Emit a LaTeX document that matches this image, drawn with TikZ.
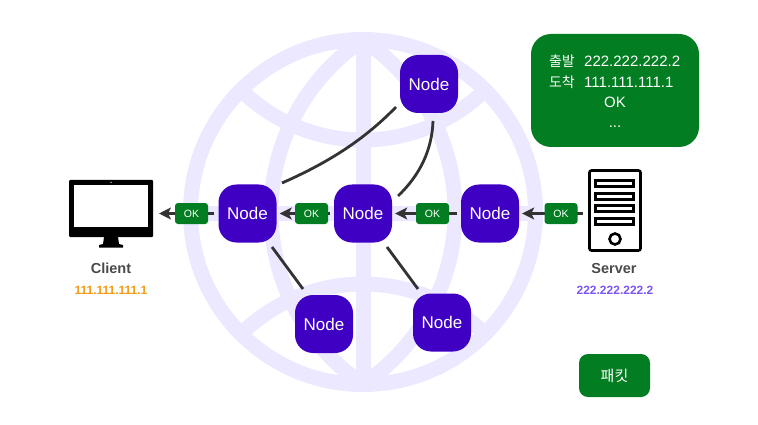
\documentclass[tikz,border=0pt]{standalone}
\usepackage{fontspec}
\setmainfont{Liberation Sans}
\newfontfamily\krfont{Noto Sans CJK KR}
\usetikzlibrary{arrows.meta}
\definecolor{globe}{HTML}{ECE8FF}
\definecolor{nodeblue}{HTML}{3F00C4}
\definecolor{pgreen}{HTML}{027D21}
\definecolor{linegray}{HTML}{333333}
\definecolor{labelgray}{HTML}{4A4A4A}
\definecolor{ipor}{HTML}{F59A12}
\definecolor{ippur}{HTML}{7B55F5}
\tikzset{
 globeline/.style={draw=globe,line width=15pt},
 netnode/.style={fill=nodeblue,rounded corners=18pt,minimum width=58pt,minimum height=58pt,text=white,font=\fontsize{17}{17}\selectfont,inner sep=0pt},
 okbox/.style={fill=pgreen,rounded corners=3pt,minimum width=33pt,minimum height=21pt,text=white,font=\fontsize{10.5}{10.5}\selectfont,inner sep=0pt},
 flow/.style={draw=linegray,line width=3pt,shorten <=4pt,shorten >=3pt,-{Stealth[length=12pt,width=12pt,inset=3pt]}},
 link/.style={draw=linegray,line width=2.8pt},
 caplabel/.style={text=labelgray,font=\bfseries\fontsize{14.5}{14.5}\selectfont,inner sep=0pt},
 ipa/.style={text=ipor,font=\bfseries\fontsize{12}{12}\selectfont,inner sep=0pt},
 ipb/.style={text=ippur,font=\bfseries\fontsize{12}{12}\selectfont,inner sep=0pt},
 pkt/.style={text=white,font=\fontsize{15}{15}\selectfont,inner sep=0pt},
 icon/.style={draw=black,line width=2.6pt},
}
\begin{document}
\begin{tikzpicture}[x=1pt,y=-1pt]
\useasboundingbox (0,0) rectangle (758,425);
% globe
\draw[globeline] (363,212) circle[radius=172.5];
\draw[globeline,smooth] plot[domain=-56.3:56.3,samples=40] ({478-207*cos(\x)},{212+207*sin(\x)});
\draw[globeline,smooth] plot[domain=-56.3:56.3,samples=40] ({248+207*cos(\x)},{212+207*sin(\x)});
\draw[globeline] (363,40) -- (363,384);
\draw[globeline] (190,213) -- (536,213);
\draw[globeline,smooth] plot[domain=-44:44,samples=40] ({363+174*sin(\x)},{-34+174*cos(\x)});
\draw[globeline,smooth] plot[domain=-44:44,samples=40] ({363+174*sin(\x)},{458-174*cos(\x)});
% nodes
\node[netnode] (n1) at (247.5,213.5) {Node};
\node[netnode] (n2) at (363,213.5) {Node};
\node[netnode] (n3) at (490,213.5) {Node};
\node[netnode] (n4) at (429,84) {Node};
\node[netnode] (n5) at (324,324) {Node};
\node[netnode] (n6) at (442,322.5) {Node};
% client
\coordinate (cl) at (156,213.5);
\coordinate (sv) at (587,213.5);
\fill[black,rounded corners=1pt] (69,180) rectangle (153,237);
\fill[white] (74,185) rectangle (148,227);
\fill[white] (111,182.3) circle[radius=0.7];
\fill[black] (104,237) -- (118,237) -- (119,244) -- (123,245) -- (123,247.5) -- (99,247.5) -- (99,245) -- (103,244) -- cycle;
\node[caplabel,anchor=base] (clientlabel) at (111,273) {Client};
\node[ipa,anchor=base] (clientip) at (111,294) {111.111.111.1};
% server
\draw[icon,rounded corners=2pt] (589.5,170.5) rectangle (640.5,250.5);
\draw[icon] (595.5,180.5) rectangle (633.5,186.5);
\draw[icon] (595.5,193.5) rectangle (633.5,199.5);
\draw[icon] (595.5,205.5) rectangle (633.5,211.5);
\draw[icon] (595.5,218.5) rectangle (633.5,224.5);
\draw[icon] (615,239) circle[radius=5.5];
\node[caplabel,anchor=base] (serverlabel) at (614,273) {Server};
\node[ipb,anchor=base] (serverip) at (615,294) {222.222.222.2};
% flows
\draw[flow] (n1) -- (cl);
\draw[flow] (n2) -- (n1);
\draw[flow] (n3) -- (n2);
\draw[flow] (sv) -- (n3);
\node[okbox] (ok1) at (191.5,213.5) {OK};
\node[okbox] (ok2) at (311.5,213.5) {OK};
\node[okbox] (ok3) at (432.5,213.5) {OK};
\node[okbox] (ok4) at (561,213.5) {OK};
% links
\coordinate (a1) at (396,107);
\coordinate (a2) at (282,183);
\coordinate (b1) at (433,121);
\coordinate (b2) at (398,196);
\coordinate (c1) at (272,247);
\coordinate (c2) at (303,289);
\coordinate (d1) at (387,247);
\coordinate (d2) at (418,289);
\draw[link] (a1) .. controls (362,142) and (325,164) .. (a2);
\draw[link] (b1) .. controls (432,150) and (420,175) .. (b2);
\draw[link] (c1) -- (c2);
\draw[link] (d1) -- (d2);
% packet
\node[fill=pgreen,rounded corners=20pt,minimum width=168pt,minimum height=113pt] (info) at (615,90.5) {};
\node[pkt,anchor=base east] (k1) at (575,67) {\krfont\fontsize{14}{14}\selectfont 출발};
\node[pkt,anchor=base west] (v1) at (584,67) {222.222.222.2};
\node[pkt,anchor=base east] (k2) at (575,88) {\krfont\fontsize{14}{14}\selectfont 도착};
\node[pkt,anchor=base west] (v2) at (584,88) {111.111.111.1};
\node[pkt,anchor=base] (v3) at (615,108) {OK};
\node[pkt,anchor=base] (v4) at (615,128) {...};
\node[fill=pgreen,rounded corners=9pt,minimum width=71pt,minimum height=43pt,text=white,font=\krfont\fontsize{15}{15}\selectfont,inner sep=0pt] (legend) at (614.5,375.5) {패킷};
\end{tikzpicture}
\end{document}
